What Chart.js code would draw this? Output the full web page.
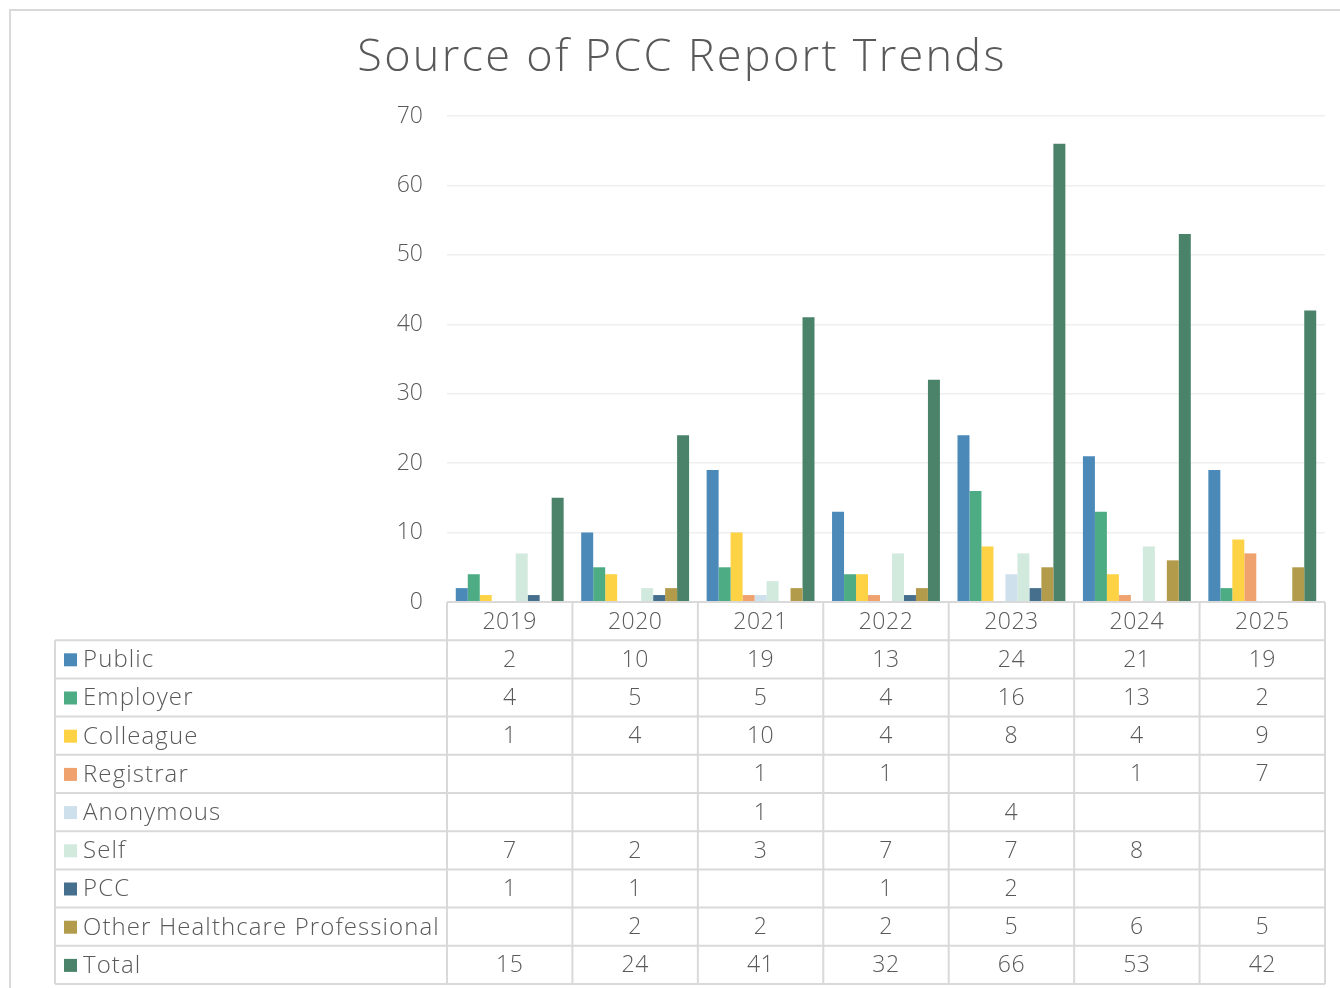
<!DOCTYPE html>
<html>
<head>
<meta charset="utf-8">
<script src="https://cdn.jsdelivr.net/npm/chart.js@4.4.0/dist/chart.umd.min.js"></script>
<style>
  html, body { margin: 0; padding: 0; background: #fff; }
  #wrap { position: relative; width: 1340px; height: 988px; }
  #frame { position: absolute; left: 9px; top: 9px; width: 1400px; height: 1100px; border: 2px solid #d9d9d9; box-sizing: border-box; }
  canvas { position: absolute; left: 0; top: 0; }
</style>
</head>
<body>
<div id="wrap">
  <div id="frame"></div>
  <canvas id="myChart" width="1340" height="988"></canvas>
</div>
<script>
// data
const years = ['2019', '2020', '2021', '2022', '2023', '2024', '2025'];
const publicData = [2, 10, 19, 13, 24, 21, 19];
const employerData = [4, 5, 5, 4, 16, 13, 2];
const colleagueData = [1, 4, 10, 4, 8, 4, 9];
const registrarData = [null, null, 1, 1, null, 1, 7];
const anonymousData = [null, null, 1, null, 4, null, null];
const selfData = [7, 2, 3, 7, 7, 8, null];
const pccData = [1, 1, null, 1, 2, null, null];
const otherData = [null, 2, 2, 2, 5, 6, 5];
const totalData = [15, 24, 41, 32, 66, 53, 42];
const yMax = 70;
const yStep = 10;

const FONT = "'Open Sans', 'Noto Sans', sans-serif";
const GREY = '#595959';
const LINE = '#d9d9d9';

// data table under the plot, columns follow the x scale
const tablePlugin = {
    id: 'dataTable',
    afterDraw(chart) {
        const ctx = chart.ctx;
        const x = chart.scales.x;
        const area = chart.chartArea;
        const n = years.length;
        const catW = (area.right - area.left) / n;
        const rowH = 38.2;
        const top = area.bottom;
        const rowsTop = top + rowH;
        const tableLeft = 55;
        const ds = chart.data.datasets;
        const bottom = rowsTop + ds.length * rowH;

        ctx.save();
        ctx.strokeStyle = LINE;
        ctx.lineWidth = 2;
        ctx.beginPath();
        ctx.moveTo(area.left, top);
        ctx.lineTo(area.right, top);
        for (let k = 0; k <= ds.length; k++) {
            const y = rowsTop + k * rowH;
            ctx.moveTo(tableLeft, y);
            ctx.lineTo(area.right, y);
        }
        for (let c = 0; c <= n; c++) {
            const xx = area.left + c * catW;
            ctx.moveTo(xx, top);
            ctx.lineTo(xx, bottom);
        }
        ctx.moveTo(tableLeft, rowsTop);
        ctx.lineTo(tableLeft, bottom);
        ctx.stroke();

        ctx.fillStyle = GREY;
        ctx.textBaseline = 'middle';
        ctx.textAlign = 'center';
        ctx.font = '300 23px ' + FONT;
        ctx.letterSpacing = '0.5px';
        years.forEach(function(yr, i) {
            ctx.fillText(yr, x.getPixelForValue(i), top + rowH / 2 + 1);
        });

        ds.forEach(function(d, r) {
            const cy = rowsTop + r * rowH + rowH / 2 + 1;
            ctx.fillStyle = d.backgroundColor;
            ctx.fillRect(64, cy - 7, 13, 13);
            ctx.fillStyle = GREY;
            ctx.textAlign = 'left';
            ctx.font = '300 24px ' + FONT;
            ctx.letterSpacing = '1.1px';
            ctx.fillText(d.label, 83, cy);
            ctx.textAlign = 'center';
            ctx.font = '300 23px ' + FONT;
            ctx.letterSpacing = '0.5px';
            d.data.forEach(function(v, i) {
                if (v !== null) ctx.fillText(String(v), x.getPixelForValue(i), cy);
            });
        });

        // title
        ctx.textAlign = 'center';
        ctx.font = '300 45px ' + FONT;
        ctx.letterSpacing = '2.3px';
        ctx.fillText('Source of PCC Report Trends', 682, 58);
        ctx.restore();
    }
};

function ds(label, data, color) {
    return { label: label, data: data, backgroundColor: color, borderWidth: 0 };
}

const ctx = document.getElementById('myChart').getContext('2d');
const chart = new Chart(ctx, {
    type: 'bar',
    data: {
        labels: years,
        datasets: [
            ds('Public', publicData, '#4a89b8'),
            ds('Employer', employerData, '#4dac84'),
            ds('Colleague', colleagueData, '#fdd244'),
            ds('Registrar', registrarData, '#efa26d'),
            ds('Anonymous', anonymousData, '#cde0ec'),
            ds('Self', selfData, '#d2e9de'),
            ds('PCC', pccData, '#466f8e'),
            ds('Other Healthcare Professional', otherData, '#b39b4c'),
            ds('Total', totalData, '#4a836a')
        ]
    },
    options: {
        responsive: false,
        animation: false,
        layout: { padding: { top: 116, bottom: 386, left: 0, right: 15 } },
        datasets: { bar: { barPercentage: 1, categoryPercentage: 0.86 } },
        plugins: {
            legend: { display: false },
            title: { display: false },
            tooltip: { enabled: false }
        },
        scales: {
            x: { display: false },
            y: {
                min: 0,
                max: yMax,
                border: { display: false },
                grid: { color: '#efefef', lineWidth: 1.5, drawTicks: false },
                ticks: {
                    stepSize: yStep,
                    padding: 24,
                    color: GREY,
                    font: { family: FONT, size: 23, weight: 300 }
                },
                afterFit: function(scale) { scale.width = 447; }
            }
        }
    },
    plugins: [tablePlugin]
});
</script>
</body>
</html>
